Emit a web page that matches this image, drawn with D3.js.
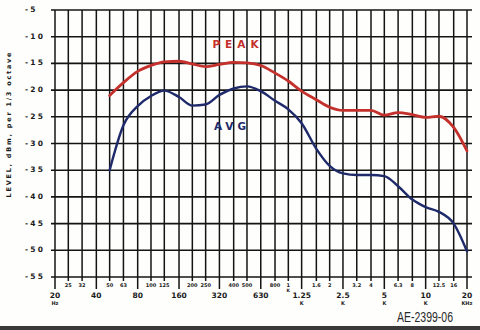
<!DOCTYPE html>
<html>
<head>
<meta charset="utf-8">
<script src="https://cdn.jsdelivr.net/npm/d3@7"></script>
<style>
  html, body { margin: 0; padding: 0; background: #fff; }
  svg { display: block; }
</style>
</head>
<body>
<div id="chart"></div>
<script>
// 1/3-octave band centres the curves are read at
const bandFreqs = [50, 63, 80, 100, 125, 160, 200, 250, 315, 400, 500, 630, 800,
  1000, 1250, 1600, 2000, 2500, 3150, 4000, 5000, 6300, 8000, 10000, 12500, 16000, 20000];

// levels, dBm per 1/3 octave
const peakLevels = [-21.0, -18.6, -16.5, -15.4, -14.7, -14.6, -15.1, -15.6, -15.2, -14.8, -14.9, -15.4, -16.8,
  -18.3, -20.2, -21.8, -23.2, -23.8, -23.8, -23.8, -24.7, -24.2, -24.6, -25.1, -24.9, -27.0, -31.4];
const avgLevels = [-35.0, -26.6, -23.0, -21.1, -20.1, -21.3, -22.9, -22.7, -20.9, -19.7, -19.3, -20.2, -22.0,
  -23.6, -26.2, -31.0, -34.2, -35.6, -35.9, -35.9, -36.1, -38.0, -40.5, -41.9, -42.8, -45.0, -50.2];

// grid / tick frequencies and their hand labels
const gridFreqs = [20, 25, 31.5, 40, 50, 63, 80, 100, 125, 160, 200, 250, 315, 400, 500, 630, 800,
  1000, 1250, 1600, 2000, 2500, 3150, 4000, 5000, 6300, 8000, 10000, 12500, 16000, 20000];
const majorLabels = {20: ['20', 'Hz'], 40: ['40', ''], 80: ['80', ''], 160: ['160', ''], 315: ['320', ''],
  630: ['630', ''], 1250: ['1.25', 'K'], 2500: ['2.5', 'K'], 5000: ['5', 'K'], 10000: ['10', 'K'], 20000: ['20', 'KHz']};
const minorLabels = {25: '25', 31.5: '32', 50: '50', 63: '63', 100: '100', 125: '125', 200: '200', 250: '250',
  400: '400', 500: '500', 800: '800', 1000: '1', 1600: '1.6', 2000: '2', 3150: '3.2', 4000: '4',
  6300: '6.3', 8000: '8', 12500: '12.5', 16000: '16'};
const levelTicks = [-5, -10, -15, -20, -25, -30, -35, -40, -45, -50, -55];

const width = 480, height = 330;
const hand = '"DejaVu Sans", sans-serif';

const svg = d3.select('#chart').append('svg')
  .attr('width', width)
  .attr('height', height);

svg.append('rect').attr('width', width).attr('height', height).attr('fill', '#fefefc');

const x = d3.scaleLog().domain([20, 20000]).range([55, 467]);
const y = d3.scaleLinear().domain([-5, -55]).range([10, 277]);

// horizontal grid (every 5 dB)
svg.append('g')
  .selectAll('line')
  .data(levelTicks)
  .join('line')
  .attr('x1', 51).attr('x2', 472)
  .attr('y1', d => y(d)).attr('y2', d => y(d))
  .attr('stroke', '#141414')
  .attr('stroke-width', 1.6);

// vertical grid, running down past the axis as ticks
svg.append('g')
  .selectAll('line')
  .data(gridFreqs)
  .join('line')
  .attr('x1', d => x(d)).attr('x2', d => x(d))
  .attr('y1', y(-5))
  .attr('y2', d => majorLabels[d] ? 289 : 281)
  .attr('stroke', '#141414')
  .attr('stroke-width', 1.5);

// level labels
svg.append('g')
  .selectAll('text')
  .data(levelTicks)
  .join('text')
  .attr('x', 25)
  .attr('y', d => y(d))
  .attr('dominant-baseline', 'middle')
  .attr('font-family', hand)
  .attr('font-weight', 'bold')
  .attr('font-size', 7.5)
  .attr('letter-spacing', 2.2)
  .attr('fill', '#1a1a1a')
  .text(d => '-' + Math.abs(d));

// axis title
svg.append('text')
  .attr('transform', 'translate(9,125) rotate(-90)')
  .attr('text-anchor', 'middle')
  .attr('dominant-baseline', 'middle')
  .attr('font-family', hand)
  .attr('font-weight', 'bold')
  .attr('font-size', 6.5)
  .attr('textLength', 145)
  .attr('lengthAdjust', 'spacing')
  .attr('fill', '#1a1a1a')
  .text('LEVEL, dBm, per 1/3 octave');

// frequency labels
const freqLab = svg.append('g')
  .attr('font-family', hand)
  .attr('font-weight', 'bold')
  .attr('fill', '#1a1a1a')
  .attr('text-anchor', 'middle');

freqLab.selectAll('text.minor')
  .data(gridFreqs.filter(f => minorLabels[f]))
  .join('text')
  .attr('class', 'minor')
  .attr('x', d => x(d))
  .attr('y', 287)
  .attr('font-size', 5)
  .text(d => minorLabels[d]);

freqLab.selectAll('text.k1')
  .data([1000])
  .join('text')
  .attr('class', 'k1')
  .attr('x', d => x(d))
  .attr('y', 292)
  .attr('font-size', 4.5)
  .text('K');

freqLab.selectAll('text.major')
  .data(gridFreqs.filter(f => majorLabels[f]))
  .join('text')
  .attr('class', 'major')
  .attr('x', d => x(d))
  .attr('y', 298)
  .attr('font-size', 7.5)
  .text(d => majorLabels[d][0]);

freqLab.selectAll('text.unit')
  .data(gridFreqs.filter(f => majorLabels[f] && majorLabels[f][1]))
  .join('text')
  .attr('class', 'unit')
  .attr('x', d => x(d))
  .attr('y', 305)
  .attr('font-size', 5)
  .text(d => majorLabels[d][1]);

// curves
const line = d3.line()
  .x(d => x(d[0]))
  .y(d => y(d[1]))
  .curve(d3.curveMonotoneX);

svg.append('path')
  .datum(d3.zip(bandFreqs, peakLevels))
  .attr('d', line)
  .attr('fill', 'none')
  .attr('stroke', '#c4302b')
  .attr('stroke-width', 2.8)
  .attr('stroke-linecap', 'round');

svg.append('path')
  .datum(d3.zip(bandFreqs, avgLevels))
  .attr('d', line)
  .attr('fill', 'none')
  .attr('stroke', '#1f2a6b')
  .attr('stroke-width', 2.4)
  .attr('stroke-linecap', 'round');

// curve names
svg.append('text')
  .attr('x', 238).attr('y', 48)
  .attr('text-anchor', 'middle')
  .attr('font-family', hand)
  .attr('font-weight', 600)
  .attr('font-size', 10.5)
  .attr('letter-spacing', 5)
  .attr('fill', '#c4302b')
  .text('PEAK');

svg.append('text')
  .attr('x', 232).attr('y', 130)
  .attr('text-anchor', 'middle')
  .attr('font-family', hand)
  .attr('font-weight', 600)
  .attr('font-size', 10.5)
  .attr('letter-spacing', 4)
  .attr('fill', '#1f2a6b')
  .text('AVG');

// figure number
svg.append('text')
  .attr('x', 397).attr('y', 322)
  .attr('font-family', '"Liberation Sans", Arial, sans-serif')
  .attr('font-size', 14)
  .attr('textLength', 56)
  .attr('lengthAdjust', 'spacingAndGlyphs')
  .attr('fill', '#2a2a2a')
  .text('AE-2399-06');

// scanner edge at the bottom
svg.append('rect')
  .attr('x', 0).attr('y', 326)
  .attr('width', width).attr('height', 4)
  .attr('fill', '#3a3a3a');
</script>
</body>
</html>
